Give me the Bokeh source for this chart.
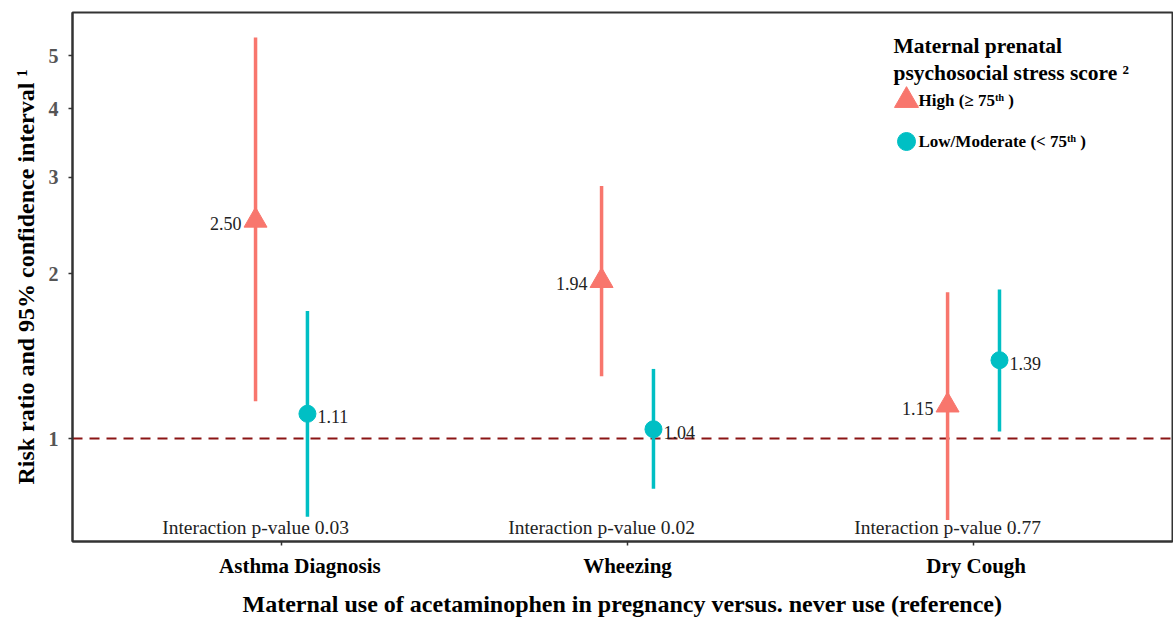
import math
from bokeh.plotting import figure
from bokeh.models import (Range1d, FixedTicker, NumeralTickFormatter, Span, Label)
from bokeh.core.properties import value
from bokeh.embed import file_html
from bokeh.resources import INLINE

# ---------------- data ----------------
outcomes = ["Asthma Diagnosis", "Wheezing", "Dry Cough"]
high_rr = [2.50, 1.94, 1.15]
high_lower = [1.17, 1.30, 0.71]
high_upper = [5.39, 2.89, 1.85]
low_rr = [1.11, 1.04, 1.39]
low_lower = [0.72, 0.81, 1.03]
low_upper = [1.71, 1.34, 1.87]
p_values = ["0.03", "0.02", "0.77"]
y_ticks = [1, 2, 3, 4, 5]
series_labels = ["High (≥ 75ᵗʰ )", "Low/Moderate (< 75ᵗʰ )"]
legend_title = ["Maternal prenatal", "psychosocial stress score ²"]

# ---------------- style / layout ----------------
RED = "#F8766D"
TEAL = "#00BFC4"
FONT = "Liberation Serif"
DODGE = 0.075
NBSP = "\u00a0"
label_pad = [7, 0, 1]   # visual nudge of category labels (in no-break spaces)

W, H = 1173, 619
BL, BR, BT, BB = 72, 1, 12, 78
X0, X1 = 0.396, 3.575
Y0, Y1 = 0.649, 5.99
FW, FH = W - BL - BR, H - BT - BB

pos = list(range(1, len(outcomes) + 1))
high_x = [c - DODGE for c in pos]
low_x = [c + DODGE for c in pos]

p = figure(width=W, height=H, y_axis_type="log",
           x_range=Range1d(X0, X1), y_range=Range1d(Y0, Y1),
           output_backend="svg", toolbar_location=None,
           min_border_left=BL, min_border_right=BR, min_border_top=BT, min_border_bottom=BB)

p.xgrid.visible = False
p.ygrid.visible = False
p.background_fill_color = "white"
p.outline_line_color = "#333333"
p.outline_line_width = 2

# reference line
p.add_layout(Span(location=1, dimension="width", line_color="#8B1515",
                  line_dash="10 7", line_width=2, level="underlay"))

# error bars
p.segment(x0=high_x, y0=high_lower, x1=high_x, y1=high_upper, line_color=RED, line_width=3.5)
p.segment(x0=low_x, y0=low_lower, x1=low_x, y1=low_upper, line_color=TEAL, line_width=3.5)

# points
p.scatter(high_x, high_rr, marker="triangle", size=23, fill_color=RED, line_color=RED)
p.scatter(low_x, low_rr, marker="circle", size=17, fill_color=TEAL, line_color=TEAL)

# value labels
p.text(x=high_x, y=high_rr, text=[f"{v:.2f}" for v in high_rr], text_align="right",
       text_baseline="middle", x_offset=-14, y_offset=3, text_font=value(FONT),
       text_font_size="18px", text_color="#222222")
p.text(x=low_x, y=low_rr, text=[f"{v:.2f}" for v in low_rr], text_align="left",
       text_baseline="middle", x_offset=10, y_offset=3, text_font=value(FONT),
       text_font_size="18px", text_color="#222222")

# interaction p-values
for xx, pv in zip(high_x, p_values):
    p.add_layout(Label(x=xx, y=4, y_units="screen", text=f"Interaction p-value {pv}",
                       text_align="center", text_baseline="bottom", text_font=FONT,
                       text_font_size="19.5px", text_color="#222222"))

# axes
p.xaxis.ticker = FixedTicker(ticks=pos)
p.xaxis.major_label_overrides = {c: NBSP * k + name for c, name, k in zip(pos, outcomes, label_pad)}
p.yaxis.ticker = FixedTicker(ticks=y_ticks)
p.yaxis.formatter = NumeralTickFormatter(format="0")

for ax in (p.xaxis[0], p.yaxis[0]):
    ax.axis_line_color = "#333333"
    ax.axis_line_width = 2
    ax.major_tick_line_color = "#333333"
    ax.major_tick_line_width = 1.5
    ax.major_tick_out = 4
    ax.major_tick_in = 0
    ax.minor_tick_line_color = None
    ax.major_label_text_font = FONT
    ax.major_label_text_font_style = "bold"
    ax.axis_label_text_font = FONT
    ax.axis_label_text_font_style = "bold"
    ax.axis_label_text_font_size = "24px"
    ax.axis_label_text_color = "black"

p.xaxis.major_label_text_font_size = "21px"
p.yaxis.major_label_text_font_size = "20px"
p.xaxis.major_label_text_color = "black"
p.yaxis.major_label_text_color = "#555555"
p.xaxis.major_label_standoff = 8
p.xaxis.axis_label_standoff = 10
p.yaxis.major_label_standoff = 10
p.yaxis.axis_label_standoff = 7
p.xaxis.axis_label = "Maternal use of acetaminophen in pregnancy versus. never use (reference)"
p.yaxis.axis_label = "Risk ratio and 95% confidence interval ¹"


# ---------------- legend (drawn by hand, positioned in frame pixels) ----------------
def frame_to_data(px, py):
    """px from frame left, py from frame bottom -> data coords (log y)."""
    x = X0 + px / FW * (X1 - X0)
    ly = math.log(Y0) + py / FH * (math.log(Y1) - math.log(Y0))
    return x, math.exp(ly)


LEG_X = 834          # marker centre, px from frame left
LEG_TEXT_X = 846     # label start, px from frame left
LEG_ROWS = [441, 400]  # px from frame bottom
TITLE_X, TITLE_Y, TITLE_DY = 821, 496, 27

for i, t in enumerate(legend_title):
    p.add_layout(Label(x=TITLE_X, y=TITLE_Y - TITLE_DY * i, x_units="screen", y_units="screen",
                       text=t, text_baseline="middle", text_font=FONT, text_font_style="bold",
                       text_font_size="21.5px", text_color="black"))

markers = [("triangle", 24, RED), ("circle", 18, TEAL)]
for (mk, sz, col), row, lab in zip(markers, LEG_ROWS, series_labels):
    mx, my = frame_to_data(LEG_X, row)
    p.scatter([mx], [my], marker=mk, size=sz, fill_color=col, line_color=col)
    p.add_layout(Label(x=LEG_TEXT_X, y=row, x_units="screen", y_units="screen", text=lab,
                       text_baseline="middle", text_font=FONT, text_font_style="bold",
                       text_font_size="17px", text_color="black"))

open("out.html", "w").write(file_html(p, INLINE))
